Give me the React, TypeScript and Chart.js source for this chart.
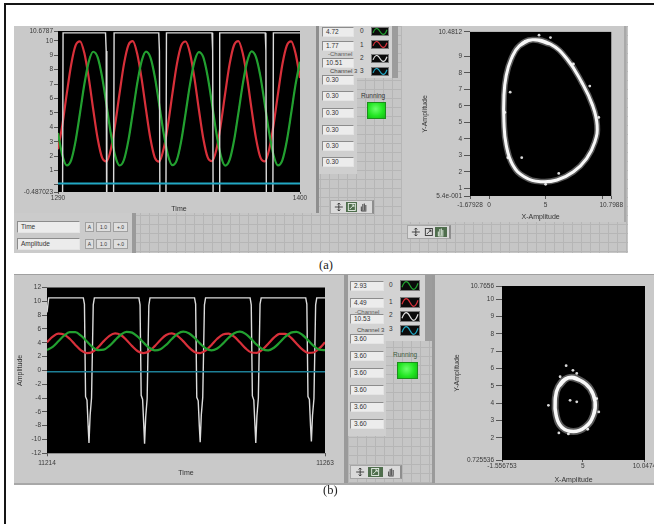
import React, { useEffect, useRef } from "react";
import { Chart, registerables } from "chart.js";
Chart.register(...registerables);

// ---------------- DATA ----------------
// Panel (a) waveform graph
const timeA = [1290, 1292, 1294, 1296, 1298, 1300, 1302, 1304, 1306, 1308, 1310, 1312, 1314, 1316, 1318, 1320, 1322, 1324, 1326, 1328, 1330, 1332, 1334, 1336, 1338, 1340, 1342, 1344, 1346, 1348, 1350, 1352, 1354, 1356, 1358, 1360, 1362, 1364, 1366, 1368, 1370, 1372, 1374, 1376, 1378, 1380, 1382, 1384, 1386, 1388, 1390, 1392, 1394, 1396, 1398, 1400];
const redA = [2.47, 4.19, 6.35, 8.36, 9.68, 9.96, 9.13, 7.41, 5.25, 3.24, 1.92, 1.64,
  2.45, 4.22, 6.38, 8.40, 9.70, 9.97, 9.10, 7.38, 5.22, 3.22, 1.90, 1.62,
  2.49, 4.17, 6.33, 8.35, 9.66, 9.95, 9.14, 7.43, 5.27, 3.26, 1.93, 1.65,
  2.46, 4.20, 6.36, 8.38, 9.69, 9.98, 9.12, 7.40, 5.24, 3.23, 1.91, 1.63,
  2.48, 4.18, 6.34, 8.37, 9.67, 9.96, 9.11, 7.42];
const greenA = [3.60, 2.04, 1.36, 1.73, 3.06, 4.99, 7.00, 8.56, 9.24, 8.87, 7.54, 5.61,
  3.58, 2.02, 1.35, 1.75, 3.09, 5.02, 7.03, 8.58, 9.25, 8.85, 7.51, 5.58,
  3.62, 2.06, 1.37, 1.72, 3.04, 4.97, 6.98, 8.54, 9.22, 8.88, 7.56, 5.63,
  3.59, 2.03, 1.34, 1.74, 3.07, 5.00, 7.01, 8.57, 9.26, 8.86, 7.53, 5.60,
  3.61, 2.05, 1.36, 1.73, 3.05, 4.98, 6.99, 8.55];
const whiteA_t = [1290, 1291.9, 1292.3, 1311.6, 1311.9, 1312.2, 1312.6, 1314.7, 1315.2, 1315.5, 1335.8, 1336.1, 1336.4, 1336.8, 1338.5, 1339.0, 1339.3, 1360.0, 1360.3, 1360.6, 1361.0, 1362.7, 1363.2, 1363.5, 1384.2, 1384.5, 1384.8, 1385.2, 1387.1, 1387.6, 1387.9, 1400];
const whiteA_v = [-10, -10, 10.55, 10.55, 9.3, -6, -10, -10, -4, 10.55, 10.55, 9.3, -6, -10, -10, -4, 10.55, 10.55, 9.3, -6, -10, -10, -4, 10.55, 10.55, 9.3, -6, -10, -10, -4, 10.55, 10.55];
const cyanA_t = [1290, 1400];
const cyanA_v = [0.1, 0.1];
const xTicksA = [1290, 1400];
const xLabelsA = ["1290", "1400"];
const yTicksA = [-0.487023, 0, 1, 2, 3, 4, 5, 6, 7, 8, 9, 10, 10.6787];
const yLabelsA = ["-0.487023", "", "1", "2", "3", "4", "5", "6", "7", "8", "9", "10", "10.6787"];

// Panel (a) XY graph
const xyA_x = [2.68, 3.84, 5.43, 6.89, 8.19, 9.15, 9.55, 9.35, 8.62, 7.46, 6.01, 4.57, 3.11, 2.10, 1.52, 1.32, 1.32, 1.52, 1.96, 2.68, 3.84, 5.43];
const xyA_y = [9.64, 10.0, 9.74, 8.84, 7.43, 6.03, 4.83, 3.82, 2.81, 2.01, 1.51, 1.41, 1.71, 2.42, 3.62, 5.02, 6.63, 7.84, 8.84, 9.64, 10.0, 9.74];
const xyA_dotX = [4.42, 7.46, 1.87, 1.67, 2.89, 6.16, 5.0, 5.43, 8.9, 1.4, 9.7, 3.2];
const xyA_dotY = [10.28, 8.54, 6.83, 2.86, 2.86, 1.91, 1.25, 10.14, 7.2, 5.6, 5.3, 9.9];
const xTicksXYA = [-1.67928, 0, 5, 10, 10.7988];
const xLabelsXYA = ["-1.67928", "0", "5", "", "10.7988"];
const yTicksXYA = [0.54, 1, 2, 3, 4, 5, 6, 7, 8, 9, 10.4812];
const yLabelsXYA = ["5.4e-001", "1", "2", "3", "4", "5", "6", "7", "8", "9", "10.4812"];

// Panel (b) waveform graph
const timeB = [11214, 11215, 11216, 11217, 11218, 11219, 11220, 11221, 11222, 11223, 11224, 11225, 11226, 11227, 11228, 11229, 11230, 11231, 11232, 11233, 11234, 11235, 11236, 11237, 11238, 11239, 11240, 11241, 11242, 11243, 11244, 11245, 11246, 11247, 11248, 11249, 11250, 11251, 11252, 11253, 11254, 11255, 11256, 11257, 11258, 11259, 11260, 11261, 11262, 11263];
const redB = [4.06, 4.88, 5.32, 5.21, 4.58, 3.69, 2.89, 2.50, 2.67, 3.34,
  4.24, 5.01, 5.35, 5.12, 4.41, 3.51, 2.77, 2.49, 2.77, 3.51,
  4.41, 5.12, 5.35, 5.01, 4.24, 3.34, 2.67, 2.50, 2.89, 3.69,
  4.58, 5.21, 5.32, 4.88, 4.06, 3.18, 2.59, 2.54, 3.03, 3.87,
  4.74, 5.28, 5.28, 4.74, 3.87, 3.03, 2.54, 2.59, 3.18, 4.06];
const greenB = [2.94, 3.41, 4.21, 5.02, 5.53, 5.53, 5.02, 4.21, 3.41, 2.94,
  3.00, 3.55, 4.38, 5.16, 5.58, 5.47, 4.87, 4.03, 3.28, 2.91,
  3.07, 3.70, 4.55, 5.28, 5.60, 5.38, 4.72, 3.87, 3.17, 2.90,
  3.17, 3.87, 4.72, 5.38, 5.60, 5.28, 4.55, 3.70, 3.07, 2.91,
  3.28, 4.03, 4.87, 5.47, 5.58, 5.16, 4.38, 3.55, 3.00, 2.94];
const whiteB_t = [11214, 11214.3,
  11220.4, 11220.6, 11220.8, 11221.05, 11221.25, 11221.4, 11221.6, 11221.85, 11222.15, 11222.35,
  11230.2, 11230.4, 11230.6, 11230.85, 11231.05, 11231.2, 11231.4, 11231.65, 11231.95, 11232.15,
  11240.0, 11240.2, 11240.4, 11240.65, 11240.85, 11241.0, 11241.2, 11241.45, 11241.75, 11241.95,
  11249.8, 11250.0, 11250.2, 11250.45, 11250.65, 11250.8, 11251.0, 11251.25, 11251.55, 11251.75,
  11259.6, 11259.8, 11260.0, 11260.25, 11260.45, 11260.6, 11260.8, 11261.05, 11261.35, 11261.55,
  11263];
const whiteB_v = [8.4, 10.5,
  10.5, 9.6, -3.8, -4.3, -8.0, -10.5, -6.5, -4.0, 9.5, 10.5,
  10.5, 9.5, -3.6, -4.2, -7.8, -10.6, -6.7, -4.1, 9.4, 10.5,
  10.5, 9.6, -3.9, -4.4, -8.1, -10.4, -6.4, -3.9, 9.5, 10.5,
  10.5, 9.5, -3.7, -4.3, -7.9, -10.5, -6.6, -4.0, 9.6, 10.5,
  10.5, 9.6, -3.8, -4.2, -8.0, -10.3, -6.5, -4.1, 9.5, 10.5,
  10.5];
const cyanB_t = [11214, 11263];
const cyanB_v = [-0.2, -0.2];
const xTicksB = [11214, 11263];
const xLabelsB = ["11214", "11263"];
const yTicksB = [-12, -10, -8, -6, -4, -2, 0, 2, 4, 6, 8, 10, 12];
const yLabelsB = ["-12", "-10", "-8", "-6", "-4", "-2", "0", "2", "4", "6", "8", "10", "12"];

// Panel (b) XY graph
const xyB_x = [3.02, 3.83, 4.78, 5.59, 6.0, 5.86, 5.19, 4.24, 3.30, 2.84, 2.76, 3.02, 3.83, 4.78];
const xyB_y = [4.95, 5.47, 5.33, 4.85, 4.08, 3.30, 2.62, 2.37, 2.62, 3.30, 4.17, 4.95, 5.47, 5.33];
const xyB_dotX = [3.65, 2.21, 6.13, 3.06, 3.97, 4.51, 3.16, 4.51, 3.83, 6.3, 4.2, 5.4];
const xyB_dotY = [6.17, 3.88, 4.27, 2.29, 4.17, 4.08, 5.53, 5.72, 2.23, 3.5, 5.9, 2.5];
const xTicksXYB = [-1.556753, 5, 10];
const xLabelsXYB = ["-1.556753", "5", "10.0474"];
const yTicksXYB = [0.725536, 2, 3, 4, 5, 6, 7, 8, 9, 10, 10.7656];
const yLabelsXYB = ["0.725536", "2", "3", "4", "5", "6", "7", "8", "9", "10", "10.7656"];

// Front-panel indicator values
const chanValsA = ["4.72", "1.77", "10.51"];
const paramValsA = ["0.30", "0.30", "0.30", "0.30", "0.30", "0.30"];
const chanValsB = ["2.93", "4.49", "10.53"];
const paramValsB = ["3.60", "3.60", "3.60", "3.60", "3.60", "3.60"];

// ---------------- STYLE / HELPERS ----------------
const FONT = '"Liberation Sans", Arial, sans-serif';
const SERIF = '"Liberation Serif", "DejaVu Serif", serif';
const C_WHITE = "#dcdcdc";
const C_RED = "#d8303a";
const C_GREEN = "#22a030";
const C_CYAN = "#22a8c4";

const pts = (xs: number[], ys: number[]) => xs.map((x, i) => ({ x, y: ys[i] }));

const plotBg = {
  id: "plotBg",
  beforeDraw(chart: any) {
    const { ctx, chartArea: a } = chart;
    ctx.save();
    ctx.fillStyle = "#000";
    ctx.fillRect(a.left, a.top, a.right - a.left, a.bottom - a.top);
    ctx.restore();
  },
};

function axis(o: any) {
  return {
    type: "linear",
    position: o.horiz ? "bottom" : "left",
    min: o.min,
    max: o.max,
    afterBuildTicks: (s: any) => {
      s.ticks = o.ticks.map((v: number) => ({ value: v }));
    },
    afterFit: (s: any) => {
      if (o.horiz) s.height = o.size;
      else s.width = o.size;
    },
    ticks: {
      autoSkip: false,
      maxRotation: 0,
      minRotation: 0,
      padding: o.pad,
      color: "#3a3a3a",
      font: { size: 6.5, family: FONT },
      callback: (_v: any, i: number) => o.labels[i],
    },
    grid: { display: true, drawOnChartArea: false, drawTicks: true, tickLength: o.tickLen, color: "#555", lineWidth: 1 },
    border: { display: false },
    title: {
      display: !!o.title,
      text: o.title || "",
      color: "#333",
      font: { size: 7, family: FONT },
      padding: { top: o.tTop || 0, bottom: o.tBottom || 0 },
    },
  };
}

function lineDs(data: any[], color: string, width: number, extra: any = {}) {
  return { data, showLine: true, borderColor: color, backgroundColor: color, borderWidth: width, pointRadius: 0, tension: 0, ...extra };
}

function cfg(datasets: any[], x: any, y: any, padding: any) {
  return {
    type: "scatter",
    data: { datasets },
    options: {
      responsive: false,
      animation: false,
      events: [],
      layout: { padding },
      plugins: { legend: { display: false }, tooltip: { enabled: false } },
      scales: { x, y },
    },
    plugins: [plotBg],
  };
}

const makeA = () =>
  cfg(
    [
      lineDs(pts(cyanA_t, cyanA_v), C_CYAN, 2),
      lineDs(pts(whiteA_t, whiteA_v), C_WHITE, 1.4),
      lineDs(pts(timeA, greenA), C_GREEN, 2.2, { cubicInterpolationMode: "monotone" }),
      lineDs(pts(timeA, greenA), "#8fdc7a", 1, { cubicInterpolationMode: "monotone", borderDash: [2, 3] }),
      lineDs(pts(timeA, redA), C_RED, 2.2, { cubicInterpolationMode: "monotone" }),
    ],
    axis({ horiz: true, min: 1290, max: 1400, ticks: xTicksA, labels: xLabelsA, size: 21, tickLen: 2, pad: 0, title: "Time", tBottom: 0 }),
    axis({ horiz: false, min: -0.487023, max: 10.6787, ticks: yTicksA, labels: yLabelsA, size: 44, tickLen: 4, pad: 1 }),
    { top: 5, right: 16, left: 0, bottom: 0 }
  );

const makeXYA = () =>
  cfg(
    [
      lineDs(pts(xyA_x, xyA_y), "rgba(255,255,255,0.35)", 6, { tension: 0.45 }),
      lineDs(pts(xyA_x, xyA_y), "#f4f4f4", 3, { tension: 0.45 }),
      { data: pts(xyA_dotX, xyA_dotY), showLine: false, pointRadius: 1.4, pointBorderWidth: 0, backgroundColor: "#d8d8d8" },
    ],
    axis({ horiz: true, min: -1.67928, max: 10.7988, ticks: xTicksXYA, labels: xLabelsXYA, size: 26, tickLen: 3, pad: 2, title: "X-Amplitude", tBottom: 1 }),
    axis({ horiz: false, min: 0.54, max: 10.4812, ticks: yTicksXYA, labels: yLabelsXYA, size: 68, tickLen: 6, pad: 2, title: "Y-Amplitude", tTop: 18.8 }),
    { top: 4, right: 13, left: 0, bottom: 0 }
  );

const makeB = () =>
  cfg(
    [
      lineDs(pts(cyanB_t, cyanB_v), "#1d7f96", 1.6),
      lineDs(pts(timeB, greenB), C_GREEN, 2.2, { cubicInterpolationMode: "monotone" }),
      lineDs(pts(timeB, redB), C_RED, 2.2, { cubicInterpolationMode: "monotone" }),
      lineDs(pts(whiteB_t, whiteB_v), C_WHITE, 1.4),
    ],
    axis({ horiz: true, min: 11214, max: 11263, ticks: xTicksB, labels: xLabelsB, size: 30.7, tickLen: 3, pad: 3, title: "Time", tBottom: 6.8 }),
    axis({ horiz: false, min: -12, max: 12, ticks: yTicksB, labels: yLabelsB, size: 33, tickLen: 5, pad: 1, title: "Amplitude", tTop: 1.8 }),
    { top: 12.5, right: 21, left: 0, bottom: 0 }
  );

const makeXYB = () =>
  cfg(
    [
      lineDs(pts(xyB_x, xyB_y), "rgba(255,255,255,0.35)", 7, { tension: 0.45 }),
      lineDs(pts(xyB_x, xyB_y), "#f4f4f4", 3.5, { tension: 0.45 }),
      { data: pts(xyB_dotX, xyB_dotY), showLine: false, pointRadius: 1.4, pointBorderWidth: 0, backgroundColor: "#d8d8d8" },
    ],
    axis({ horiz: true, min: -1.556753, max: 10.05, ticks: xTicksXYB, labels: xLabelsXYB, size: 24, tickLen: 2, pad: 0, title: "X-Amplitude", tBottom: 0 }),
    axis({ horiz: false, min: 0.725536, max: 10.7656, ticks: yTicksXYB, labels: yLabelsXYB, size: 70, tickLen: 6, pad: 2, title: "Y-Amplitude", tTop: 20.5 }),
    { top: 11, right: 27, left: 0, bottom: 0 }
  );

function ChartBox({ l, t, w, h, make }: any) {
  const ref = useRef<HTMLCanvasElement>(null);
  useEffect(() => {
    const ch = new Chart(ref.current as HTMLCanvasElement, make() as any);
    return () => ch.destroy();
  }, []);
  return (
    <canvas
      ref={ref}
      width={w}
      height={h}
      style={{ position: "absolute", left: l, top: t, width: w, height: h, display: "block" }}
    />
  );
}

const S = (l: number, t: number, w: number, h: number, x: any = {}) => ({
  position: "absolute" as const,
  left: l,
  top: t,
  width: w,
  height: h,
  boxSizing: "border-box" as const,
  ...x,
});

const GRID = {
  backgroundColor: "#c6c6c6",
  backgroundImage:
    "linear-gradient(#b6b6b6 1px, transparent 1px), linear-gradient(90deg, #b6b6b6 1px, transparent 1px)",
  backgroundSize: "9px 9px",
};

function T({ l, t, s = 6.5, c = "#333", fam = FONT, children }: any) {
  return (
    <div style={{ position: "absolute", left: l, top: t, font: `${s}px ${fam}`, color: c, whiteSpace: "nowrap", lineHeight: 1 }}>
      {children}
    </div>
  );
}

function VBox({ l, t, w = 32, h = 10, text }: any) {
  return (
    <div
      style={S(l, t, w, h, {
        background: "#ececec",
        borderTop: "1px solid #8c8c8c",
        borderLeft: "1px solid #8c8c8c",
        borderRight: "1px solid #e4e4e4",
        borderBottom: "1px solid #e4e4e4",
        font: `6.5px ${FONT}`,
        color: "#333",
        lineHeight: `${h - 2}px`,
        paddingLeft: 3,
        whiteSpace: "nowrap",
        overflow: "hidden",
      })}
    >
      {text}
    </div>
  );
}

function Swatch({ l, t, w, h, color }: any) {
  const iw = w - 2;
  const ih = h - 2;
  const d = `M1 ${ih * 0.7} C ${iw * 0.2} ${-ih * 0.1}, ${iw * 0.35} ${-ih * 0.1}, ${iw * 0.5} ${ih * 0.5} S ${iw * 0.8} ${ih * 1.1}, ${iw - 1} ${ih * 0.25}`;
  return (
    <div style={S(l, t, w, h, { background: "#0b0b0b", border: "1px solid #7a7a7a" })}>
      <svg width={iw} height={ih} style={{ display: "block" }}>
        <path d={d} stroke={color} strokeWidth={1.2} fill="none" />
      </svg>
    </div>
  );
}

function Tools({ l, t, active, w = 44 }: any) {
  const cw = (w - 6) / 3;
  const icons = [
    (c: string) => <path d="M5 0.5V8.5M1 4.5H9M3.5 2L5 0.5L6.5 2M3.5 7L5 8.5L6.5 7" stroke={c} strokeWidth={0.9} fill="none" />,
    (c: string) => <g stroke={c} strokeWidth={0.9} fill="none"><rect x={1.5} y={1} width={7} height={7} /><path d="M3 6.5L7 2.5M5 2.5H7V4.5" /></g>,
    (c: string) => <path d="M2.5 8.5V4M4 8V1.5M5.5 8V1M7 8V2.5M2.5 8.5H7.5" stroke={c} strokeWidth={0.9} fill="none" />,
  ];
  return (
    <div style={S(l, t, w, 14, { background: "#dadada", border: "1px solid #a6a6a6", borderRight: "2px solid #8e8e8e" })}>
      {icons.map((ic, i) => (
        <div key={i} style={S(2 + i * cw, 1, cw - 1, 10, { background: i === active ? "#4f6e4d" : "transparent" })}>
          <svg width={cw - 1} height={10} style={{ display: "block" }}>
            <g transform={`translate(${(cw - 11) / 2},0.5)`}>{ic(i === active ? "#e8f0e8" : "#333")}</g>
          </svg>
        </div>
      ))}
    </div>
  );
}

function Led({ l, t, w, h }: any) {
  return (
    <div
      style={S(l, t, w, h, {
        background: "radial-gradient(circle at 45% 40%, #6bff6b 0%, #22e622 55%, #14b814 100%)",
        border: "1px solid #1b8f1b",
      })}
    />
  );
}

function SmallIcon({ l, t, w, text }: any) {
  return (
    <div style={S(l, t, w, 10, { background: "#dedede", border: "1px solid #a0a0a0", font: `5px ${FONT}`, color: "#333", lineHeight: "8px", textAlign: "center" })}>
      {text}
    </div>
  );
}

export default function App() {
  return (
    <div style={{ position: "fixed", left: 0, top: 0, width: 654, height: 524, overflow: "hidden", background: "#fff" }}>
      {/* outer frame */}
      <div style={S(4, 3, 700, 600, { border: "2px solid #151515" })} />

      {/* ================= PANEL (a) ================= */}
      <div style={S(14, 26, 614, 227, GRID)} />
      <div style={S(14, 26, 305, 187, { background: "#c9c9c9" })} />
      <div style={S(316, 26, 3, 187, { background: "#8e8e8e" })} />
      <ChartBox l={14} t={26} w={302} h={187} make={makeA} />

      {/* label controls under the graph */}
      <div style={S(14, 213, 120, 40, { background: "#cbcbcb" })} />
      <div style={S(132, 213, 4, 40, { background: "#9a9a9a" })} />
      <VBox l={17} t={221} w={63} h={12} text="Time" />
      <VBox l={17} t={238} w={63} h={12} text="Amplitude" />
      <SmallIcon l={85} t={222} w={9} text="A" />
      <SmallIcon l={96} t={222} w={15} text="1.0" />
      <SmallIcon l={113} t={222} w={15} text="+.0" />
      <SmallIcon l={85} t={239} w={9} text="A" />
      <SmallIcon l={96} t={239} w={15} text="1.0" />
      <SmallIcon l={113} t={239} w={15} text="+.0" />

      {/* legend / indicator column */}
      <div style={S(319, 26, 79, 52, { background: "#d3d3d3" })} />
      <div style={S(319, 78, 38, 96, { background: "#cfcfcf" })} />
      <div style={S(392, 26, 6, 52, { background: "#9c9c9c" })} />
      <VBox l={322} t={27} text={chanValsA[0]} />
      <VBox l={322} t={41} text={chanValsA[1]} />
      <VBox l={322} t={58} text={chanValsA[2]} />
      <T l={360} t={28}>0</T>
      <T l={360} t={42}>1</T>
      <T l={360} t={55}>2</T>
      <T l={360} t={68}>3</T>
      <T l={328} t={51} s={6} c="#5a5a5a">-Channel</T>
      <T l={330} t={68} s={6} c="#444">Channel 3</T>
      <Swatch l={371} t={27} w={18} h={9} color={C_GREEN} />
      <Swatch l={371} t={40} w={18} h={9} color={C_RED} />
      <Swatch l={371} t={54} w={18} h={9} color="#e0e0e0" />
      <Swatch l={371} t={67} w={18} h={9} color={C_CYAN} />
      {paramValsA.map((v, i) => (
        <VBox key={i} l={322} t={[75, 91, 108, 125, 141, 157][i]} text={v} />
      ))}
      <T l={361} t={93}>Running</T>
      <Led l={367} t={102} w={19} h={17} />
      <Tools l={330} t={200} active={1} />

      {/* XY graph (a) */}
      <div style={S(402, 26, 224, 196, { background: "#c9c9c9", borderRight: "2px solid #a9a9a9" })} />
      <ChartBox l={402} t={26} w={223} h={196} make={makeXYA} />
      <Tools l={407} t={225} active={2} />

      <T l={319} t={259} s={12.5} c="#222" fam={SERIF}>(a)</T>

      {/* ================= PANEL (b) ================= */}
      <div style={S(14, 275, 332, 209, { background: "#c9c9c9" })} />
      <div style={S(344, 275, 4, 209, { background: "#9a9a9a" })} />
      <ChartBox l={14} t={275} w={332} h={209} make={makeB} />

      <div style={S(348, 275, 84, 209, GRID)} />
      <div style={S(348, 275, 78, 66, { background: "#d3d3d3" })} />
      <div style={S(348, 341, 38, 95, { background: "#cfcfcf" })} />
      <div style={S(425, 275, 7, 66, { background: "#9c9c9c" })} />
      <VBox l={350} t={281} w={34} text={chanValsB[0]} />
      <VBox l={350} t={298} w={34} text={chanValsB[1]} />
      <VBox l={350} t={314} w={34} text={chanValsB[2]} />
      <T l={389} t={282}>0</T>
      <T l={389} t={299}>1</T>
      <T l={389} t={312}>2</T>
      <T l={389} t={326}>3</T>
      <T l={355} t={309} s={6} c="#5a5a5a">-Channel</T>
      <T l={357} t={327} s={6} c="#444">Channel 3</T>
      <Swatch l={400} t={280} w={20} h={11} color={C_GREEN} />
      <Swatch l={400} t={297} w={20} h={11} color={C_RED} />
      <Swatch l={400} t={311} w={20} h={11} color="#e0e0e0" />
      <Swatch l={400} t={325} w={20} h={11} color={C_CYAN} />
      {paramValsB.map((v, i) => (
        <VBox key={i} l={350} t={[334, 351, 368, 385, 402, 419][i]} w={34} text={v} />
      ))}
      <T l={393} t={352} c="#3d5a3d">Running</T>
      <Led l={397} t={362} w={21} h={17} />
      <Tools l={350} t={465} w={52} active={1} />

      <div style={S(432, 275, 222, 209, { background: "#c9c9c9" })} />
      <div style={S(432, 275, 3, 209, { background: "#9a9a9a" })} />
      <ChartBox l={432} t={275} w={240} h={209} make={makeXYB} />

      <div style={S(14, 274, 640, 1, { background: "#a0a0a0" })} />
      <div style={S(14, 483, 640, 2, { background: "#a8a8a8" })} />

      <T l={323} t={484} s={12.5} c="#222" fam={SERIF}>(b)</T>
    </div>
  );
}
